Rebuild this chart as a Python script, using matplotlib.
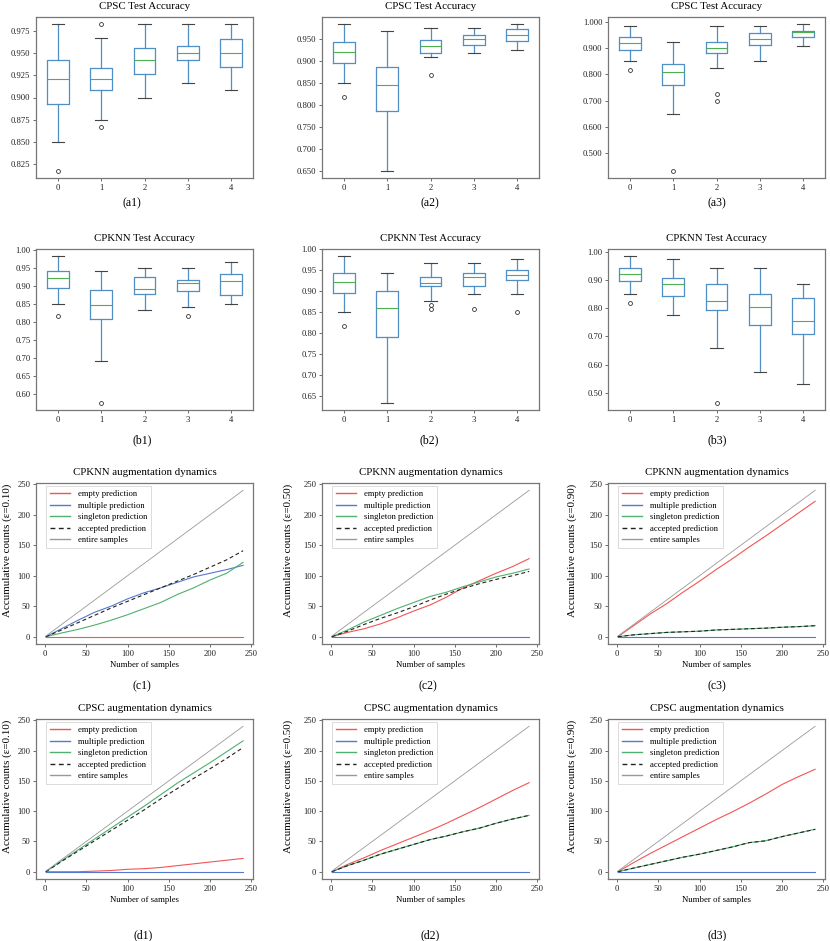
import matplotlib
matplotlib.use("Agg")
import matplotlib.pyplot as plt
from matplotlib.ticker import MultipleLocator, FormatStrFormatter

plt.rcParams.update({
    "font.family": ["Liberation Serif", "DejaVu Serif"],
    "font.size": 6,
    "xtick.labelsize": 6.2,
    "ytick.labelsize": 6.2,
    "xtick.major.size": 2.5,
    "ytick.major.size": 2.5,
    "xtick.major.pad": 2,
    "ytick.major.pad": 1.5,
    "xtick.major.width": 0.6,
    "ytick.major.width": 0.6,
    "xtick.color": "#555555",
    "ytick.color": "#555555",
    "xtick.labelcolor": "#222222",
    "ytick.labelcolor": "#222222",
    "axes.edgecolor": "#777777",
    "axes.linewidth": 0.9,
})

# --- Box plot data: (whislo, q1, med, q3, whishi, fliers) per group 0..4 ---
BOX_LABELS = ["0", "1", "2", "3", "4"]

a1_stats = [(0.850, 0.893, 0.921, 0.942, 0.983, [0.817]),
            (0.875, 0.908, 0.921, 0.933, 0.967, [0.983, 0.867]),
            (0.900, 0.927, 0.942, 0.956, 0.983, []),
            (0.917, 0.942, 0.950, 0.958, 0.983, []),
            (0.908, 0.935, 0.950, 0.966, 0.983, [])]
a2_stats = [(0.850, 0.894, 0.921, 0.942, 0.983, [0.817]),
            (0.650, 0.786, 0.845, 0.887, 0.967, []),
            (0.908, 0.917, 0.933, 0.948, 0.975, [0.867]),
            (0.917, 0.935, 0.949, 0.958, 0.975, []),
            (0.925, 0.944, 0.958, 0.972, 0.983, [])]
a3_stats = [(0.850, 0.892, 0.921, 0.941, 0.983, [0.817]),
            (0.650, 0.759, 0.809, 0.839, 0.925, [0.433]),
            (0.824, 0.883, 0.900, 0.925, 0.983, [0.725, 0.700]),
            (0.850, 0.911, 0.934, 0.958, 0.983, []),
            (0.908, 0.942, 0.960, 0.967, 0.991, [])]
b1_stats = [(0.850, 0.894, 0.922, 0.941, 0.983, [0.817]),
            (0.691, 0.808, 0.847, 0.889, 0.941, [0.575]),
            (0.833, 0.878, 0.892, 0.924, 0.950, []),
            (0.842, 0.887, 0.909, 0.916, 0.950, [0.817]),
            (0.850, 0.875, 0.914, 0.933, 0.967, [])]
b2_stats = [(0.850, 0.896, 0.922, 0.943, 0.983, [0.817]),
            (0.633, 0.789, 0.860, 0.900, 0.943, []),
            (0.877, 0.911, 0.918, 0.934, 0.967, [0.867, 0.858]),
            (0.894, 0.913, 0.934, 0.943, 0.967, [0.858]),
            (0.894, 0.927, 0.939, 0.951, 0.976, [0.850])]
b3_stats = [(0.850, 0.895, 0.922, 0.941, 0.983, [0.817]),
            (0.775, 0.843, 0.884, 0.905, 0.975, []),
            (0.658, 0.792, 0.824, 0.884, 0.941, [0.465]),
            (0.573, 0.739, 0.803, 0.849, 0.941, []),
            (0.531, 0.708, 0.753, 0.837, 0.884, [])]

# --- Augmentation dynamics: cumulative counts sampled every 20 samples ---
X_PTS = [1, 20, 40, 60, 80, 100, 120, 140, 160, 180, 200, 220, 240]
ENTIRE = [1, 20, 40, 60, 80, 100, 120, 140, 160, 180, 200, 220, 240]

c1_empty = [0, 0, 0, 0, 0, 0, 0, 0, 0, 0, 0, 0, 0]
c1_multi = [0, 13, 27, 40, 50, 62, 72, 80, 89, 98, 104, 110, 117]
c1_single = [0, 6, 12, 19, 27, 36, 46, 56, 69, 80, 93, 104, 122]
c1_accept = [0, 11, 23, 35, 47, 58, 69, 80, 91, 102, 114, 126, 141]

c2_empty = [0, 7, 13, 21, 31, 42, 52, 65, 80, 92, 104, 115, 128]
c2_multi = [0, 0, 0, 0, 0, 0, 0, 0, 0, 0, 0, 0, 0]
c2_single = [0, 11, 24, 35, 46, 56, 66, 73, 82, 90, 98, 104, 111]
c2_accept = [0, 9, 20, 30, 39, 49, 60, 70, 79, 87, 94, 100, 107]

c3_empty = [0, 18, 37, 54, 73, 91, 110, 128, 147, 165, 184, 203, 222]
c3_multi = [0, 0, 0, 0, 0, 0, 0, 0, 0, 0, 0, 0, 0]
c3_single = [0, 3, 5, 7, 8, 9, 11, 12, 13, 14, 15.5, 16.5, 18]
c3_accept = [0, 3, 5, 7, 8, 9, 11, 12, 13, 14, 15.5, 16.5, 18]

d1_empty = [0, 0, 0, 1, 2, 4, 5, 7, 10, 13, 16, 19, 22]
d1_multi = [0, 0, 0, 0, 0, 0, 0, 0, 0, 0, 0, 0, 0]
d1_single = [0, 18, 36, 54, 72, 90, 108, 127, 146, 163, 180, 198, 216]
d1_accept = [0, 17, 34, 51, 68, 85, 102, 120, 137, 154, 170, 187, 205]

d2_empty = [0, 12, 23, 35, 46, 57, 68, 80, 93, 106, 120, 134, 147]
d2_multi = [0, 0, 0, 0, 0, 0, 0, 0, 0, 0, 0, 0, 0]
d2_single = [0, 10, 19, 29, 37, 45, 53, 59, 66, 72, 80, 87, 93]
d2_accept = [0, 10, 19, 29, 37, 45, 53, 59, 66, 72, 80, 87, 93]

d3_empty = [0, 15, 30, 44, 58, 72, 86, 99, 113, 128, 144, 157, 169]
d3_multi = [0, 0, 0, 0, 0, 0, 0, 0, 0, 0, 0, 0, 0]
d3_single = [0, 6, 12, 18, 24, 29, 35, 41, 48, 51, 58, 64, 70]
d3_accept = [0, 6, 12, 18, 24, 29, 35, 41, 48, 51, 58, 64, 70]

W, H = 830, 941
fig = plt.figure(figsize=(W / 100, H / 100), dpi=100)


def px_axes(x0, y0, x1, y1):
    return fig.add_axes([x0 / W, 1 - y1 / H, (x1 - x0) / W, (y1 - y0) / H])


def draw_box(ax, stats, title, step, fmt):
    bx = [dict(whislo=s[0], q1=s[1], med=s[2], q3=s[3], whishi=s[4],
               fliers=s[5], label=lab) for s, lab in zip(stats, BOX_LABELS)]
    ax.bxp(bx, positions=range(1, 6), widths=0.5, capwidths=0.28,
           boxprops=dict(color="#4f8fc6", lw=0.9),
           whiskerprops=dict(color="#4f8fc6", lw=0.9),
           capprops=dict(color="#444444", lw=0.8),
           medianprops=dict(color="#4caf50", lw=0.8),
           flierprops=dict(marker="o", markersize=2.8, markerfacecolor="none",
                           markeredgecolor="#333333", markeredgewidth=0.6))
    ax.set_title(title, fontsize=7.8)
    ax.yaxis.set_major_locator(MultipleLocator(step))
    ax.yaxis.set_major_formatter(FormatStrFormatter(fmt))


def draw_dyn(ax, empty, multi, single, accept, title, eps, lab_x):
    ax.plot(X_PTS, empty, color="#f25555", lw=0.8, label="empty prediction")
    ax.plot(X_PTS, multi, color="#5577cc", lw=0.8, label="multiple prediction")
    ax.plot(X_PTS, single, color="#4fb06f", lw=0.8, label="singleton prediction")
    ax.plot(X_PTS, accept, color="#222222", lw=0.8, ls=(0, (3.5, 2.5)),
            label="accepted prediction")
    ax.plot(X_PTS, ENTIRE, color="#999999", lw=0.6, label="entire samples")
    ax.set_title(title, fontsize=7.8)
    ax.set_xlabel("Number of samples", fontsize=6.3, labelpad=2)
    ax.set_ylabel("Accumulative counts (ε=%s)" % eps, fontsize=7.9)
    ax.yaxis.set_label_coords(lab_x, 0.58)
    ax.set_xticks([0, 50, 100, 150, 200, 250])
    ax.set_yticks([0, 50, 100, 150, 200, 250])
    leg = ax.legend(loc="upper left", bbox_to_anchor=(0.045, 0.982),
                    borderaxespad=0, fontsize=6.2, handlelength=2.3,
                    handletextpad=0.9, labelspacing=0.4, borderpad=0.5,
                    fancybox=False)
    leg.get_frame().set_edgecolor("#cccccc")
    leg.get_frame().set_linewidth(0.6)
    for ln in leg.get_lines():
        ln.set_linewidth(1.0)


cols = [(36, 253), (322, 539), (608, 825)]
ylab_x = [-0.112, -0.134, -0.143]

box_rows = [
    ((17, 178), [a1_stats, a2_stats, a3_stats], "CPSC Test Accuracy",
     [(0.025, "%.3f"), (0.05, "%.3f"), (0.1, "%.3f")]),
    ((249, 410), [b1_stats, b2_stats, b3_stats], "CPKNN Test Accuracy",
     [(0.05, "%.2f"), (0.05, "%.2f"), (0.1, "%.2f")]),
]
for (y0, y1), stats_list, title, fmts in box_rows:
    for (x0, x1), st, (step, fmt) in zip(cols, stats_list, fmts):
        ax = px_axes(x0, y0, x1, y1)
        draw_box(ax, st, title, step, fmt)

dyn_rows = [
    ((483, 644), "CPKNN augmentation dynamics",
     [(c1_empty, c1_multi, c1_single, c1_accept, "0.10"),
      (c2_empty, c2_multi, c2_single, c2_accept, "0.50"),
      (c3_empty, c3_multi, c3_single, c3_accept, "0.90")]),
    ((719, 879), "CPSC augmentation dynamics",
     [(d1_empty, d1_multi, d1_single, d1_accept, "0.10"),
      (d2_empty, d2_multi, d2_single, d2_accept, "0.50"),
      (d3_empty, d3_multi, d3_single, d3_accept, "0.90")]),
]
for (y0, y1), title, series in dyn_rows:
    for (x0, x1), lx, (e, m, s, a, eps) in zip(cols, ylab_x, series):
        ax = px_axes(x0, y0, x1, y1)
        draw_dyn(ax, e, m, s, a, title, eps, lx)

# sub-figure captions
captions = [("(a1)", 132, 203), ("(a2)", 430, 203), ("(a3)", 717, 203),
            ("(b1)", 142, 440), ("(b2)", 429, 440), ("(b3)", 717, 440),
            ("(c1)", 142, 686), ("(c2)", 428, 686), ("(c3)", 717, 686),
            ("(d1)", 143, 935), ("(d2)", 430, 935), ("(d3)", 717, 935)]
for txt, cx, cy in captions:
    fig.text(cx / W, 1 - cy / H, txt, ha="center", va="center", fontsize=8.5)

fig.savefig("out.png", dpi=100)
